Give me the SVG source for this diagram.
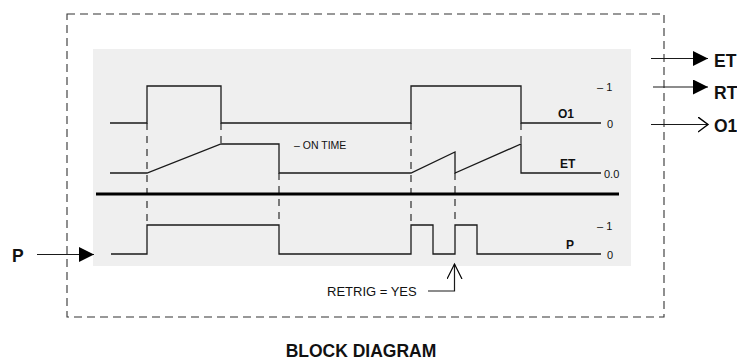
<svg xmlns="http://www.w3.org/2000/svg" width="737" height="363" viewBox="0 0 737 363">
<style>
.sig{fill:none;stroke:#1a1a1a;stroke-width:1.3}
.mark{fill:none;stroke:#1a1a1a;stroke-width:1.1;stroke-dasharray:7,6}
.box{fill:none;stroke:#333;stroke-width:1.1;stroke-dasharray:8,5}
.conn{fill:none;stroke:#1a1a1a;stroke-width:1.2}
.lbl{font-family:"Liberation Sans",Arial,sans-serif;fill:#111}
.big{font-size:17.5px;font-weight:bold}
.sm{font-size:12px;font-weight:bold}
.tick{font-size:11px}
</style>
<defs>
<marker id="fill" markerUnits="userSpaceOnUse" markerWidth="16" markerHeight="16" refX="15" refY="7.5" orient="auto">
<path d="M0,0 L15,7.5 L0,15 z" fill="#000"/>
</marker>
<marker id="open" markerUnits="userSpaceOnUse" markerWidth="12" markerHeight="18" refX="10" refY="8" orient="auto">
<path d="M0,0.5 L10,8 L0,15.5" fill="none" stroke="#000" stroke-width="1.4"/>
</marker>
<marker id="open2" markerUnits="userSpaceOnUse" markerWidth="17" markerHeight="18" refX="15" refY="8" orient="auto">
<path d="M0,0.5 L15,8 L0,15.5" fill="none" stroke="#000" stroke-width="1.2"/>
</marker>
</defs>
<rect width="737" height="363" fill="#fff"/>
<g id="block">
<rect class="box" x="67" y="14" width="597" height="303"/>
</g>
<g id="panel">
<rect x="93" y="49" width="538" height="217" fill="#efefef"/>
</g>
<g id="markers">
<line class="mark" x1="147" y1="123" x2="147" y2="225"/>
<line class="mark" x1="221" y1="123" x2="221" y2="144"/>
<line class="mark" x1="279" y1="173" x2="279" y2="225"/>
<line class="mark" x1="411" y1="123" x2="411" y2="225"/>
<line class="mark" x1="455" y1="173" x2="455" y2="225"/>
<line class="mark" x1="521" y1="123" x2="521" y2="144"/>
</g>
<g id="signal-O1">
<polyline class="sig" points="110,123 147,123 147,86 221,86 221,123 411,123 411,86 521,86 521,123 601,123"/>
<text class="lbl sm" x="558" y="118">O1</text>
<text class="lbl tick" x="597" y="91">–  1</text>
<text class="lbl tick" x="607" y="128">0</text>
</g>
<g id="signal-ET">
<polyline class="sig" points="110,173 147,173 221,144 279,144 279,173 411,173 455,152 455,173 521,144 521,173 601,173"/>
<text class="lbl sm" x="560" y="168">ET</text>
<text class="lbl tick" x="604" y="178">0.0</text>
<text class="lbl" x="294" y="149" font-size="10.5">– ON TIME</text>
</g>
<g id="divider">
<line x1="96" y1="194" x2="619" y2="194" stroke="#000" stroke-width="3"/>
</g>
<g id="signal-P">
<polyline class="sig" points="111,254 147,254 147,225 279,225 279,254 411,254 411,225 433,225 433,254 455,254 455,225 477,225 477,254 601,254"/>
<text class="lbl sm" x="566" y="249">P</text>
<text class="lbl tick" x="597" y="230">–  1</text>
<text class="lbl tick" x="607" y="259">0</text>
</g>
<g id="input-P">
<text class="lbl big" x="12" y="262">P</text>
</g>
<g id="output-ET">
<text class="lbl big" x="714" y="67">ET</text>
</g>
<g id="output-RT">
<text class="lbl big" x="714" y="99">RT</text>
</g>
<g id="output-O1">
<text class="lbl big" x="714" y="132">O1</text>
</g>
<g id="retrig">
<text class="lbl" x="327" y="296" font-size="13">RETRIG = YES</text>
</g>
<g id="title">
<text class="lbl" x="361" y="357" font-size="17.5" font-weight="bold" text-anchor="middle">BLOCK DIAGRAM</text>
</g>
<g id="connectors">
<line class="conn" x1="37" y1="254.5" x2="94" y2="254.5" marker-end="url(#fill)"/>
<line class="conn" x1="651" y1="58.5" x2="708" y2="58.5" marker-end="url(#fill)"/>
<line class="conn" x1="653" y1="87" x2="708" y2="87" marker-end="url(#fill)"/>
<line class="conn" x1="651" y1="124.5" x2="708" y2="124.5" marker-end="url(#open)"/>
<polyline class="conn" points="428,291 454.5,291 454.5,264" marker-end="url(#open2)"/>
</g>
</svg>
